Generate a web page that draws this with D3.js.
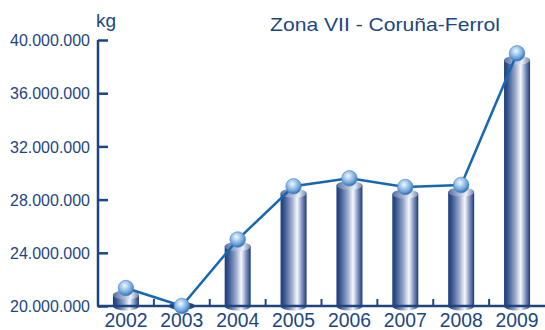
<!DOCTYPE html>
<html>
<head>
<meta charset="utf-8">
<script src="https://cdn.jsdelivr.net/npm/d3@7"></script>
<style>
  html, body { margin: 0; padding: 0; background: #fff; }
  svg { display: block; font-family: "Liberation Sans", Arial, sans-serif; }
</style>
</head>
<body>
<svg id="chart" width="545" height="330"></svg>
<script>
// Annual landings, Zona VII (Coruña-Ferrol), in kg
const years = ["2002", "2003", "2004", "2005", "2006", "2007", "2008", "2009"];
const kilos = [21350000, 20000000, 25000000, 29000000, 29600000, 28950000, 29100000, 39000000];
const yTicks = [20000000, 24000000, 28000000, 32000000, 36000000, 40000000];
const title = "Zona VII - Coruña-Ferrol";
const unit = "kg";

const navy = "#1d4680";
const lineBlue = "#1668b3";

const svg = d3.select("#chart");
const plotL = 98, plotR = 545, plotT = 40, plotB = 306;

const x = d3.scaleBand().domain(years).range([plotL, plotR]).paddingInner(0).paddingOuter(0);
const y = d3.scaleLinear().domain([20000000, 40000000]).range([plotB, plotT]);

const fmt = v => d3.format(",")(v).replace(/,/g, ".");

// gradients
const defs = svg.append("defs");
const cyl = defs.append("linearGradient").attr("id", "cyl").attr("x1", "0").attr("x2", "1").attr("y1", "0").attr("y2", "0");
[["0%", "#1a3a78"], ["15%", "#3a5890"], ["42%", "#96a6c8"], ["64%", "#f6f8fc"], ["82%", "#8395bf"], ["100%", "#1a3a78"]]
  .forEach(([o, c]) => cyl.append("stop").attr("offset", o).attr("stop-color", c));
const capG = defs.append("linearGradient").attr("id", "cap").attr("x1", "0").attr("x2", "1").attr("y1", "0").attr("y2", "0");
[["0%", "#5a6fa0"], ["45%", "#b0bcd7"], ["68%", "#eef1f8"], ["100%", "#7084b0"]]
  .forEach(([o, c]) => capG.append("stop").attr("offset", o).attr("stop-color", c));
const ball = defs.append("radialGradient").attr("id", "ball").attr("cx", "0.42").attr("cy", "0.35").attr("r", "0.65");
[["0%", "#f4f9ff"], ["30%", "#b6d5f2"], ["72%", "#6aa2d8"], ["100%", "#2f6cae"]]
  .forEach(([o, c]) => ball.append("stop").attr("offset", o).attr("stop-color", c));

// cylinders
const barW = 26, ry = 4.5, sink = 7;
const bars = svg.append("g");
years.forEach((yr, i) => {
  const cx = x(yr) + x.bandwidth() / 2;
  const topY = Math.min(y(kilos[i]) + sink, plotB);
  if (plotB - topY > 0) {
    bars.append("path")
      .attr("d", `M${cx - barW / 2},${topY} L${cx - barW / 2},${plotB} A${barW / 2},${ry} 0 0 0 ${cx + barW / 2},${plotB} L${cx + barW / 2},${topY} Z`)
      .attr("fill", "url(#cyl)");
    bars.append("ellipse").attr("cx", cx).attr("cy", topY).attr("rx", barW / 2).attr("ry", ry)
      .attr("fill", "url(#cap)");
  } else {
    bars.append("ellipse").attr("cx", cx).attr("cy", plotB).attr("rx", barW / 2).attr("ry", ry * 0.9)
      .attr("fill", "#2a4a84");
  }
});

// axes
const yAxis = svg.append("g").attr("transform", `translate(${plotL},0)`)
  .call(d3.axisRight(y).tickValues(yTicks).tickSize(10).tickFormat(""));
yAxis.select(".domain").attr("stroke", navy).attr("stroke-width", 2.5).attr("d", `M0,${plotT}V${plotB}`);
yAxis.selectAll(".tick line").attr("stroke", navy).attr("stroke-width", 2.5);

svg.append("g").selectAll("text").data(yTicks).join("text")
  .attr("x", 90).attr("y", d => y(d)).attr("dy", "0.36em")
  .attr("text-anchor", "end").attr("fill", navy).attr("font-size", 17)
  .attr("textLength", 80).attr("lengthAdjust", "spacingAndGlyphs")
  .text(fmt);

const xAxis = svg.append("g").attr("transform", `translate(0,${plotB})`)
  .call(d3.axisBottom(x).tickSize(0).tickFormat(""));
xAxis.select(".domain").attr("stroke", navy).attr("stroke-width", 2.5).attr("d", `M${plotL - 1},0H${plotR}`);

// small separators between years, pointing up
svg.append("g").selectAll("line").data(years.slice(1)).join("line")
  .attr("x1", d => x(d)).attr("x2", d => x(d))
  .attr("y1", plotB).attr("y2", plotB - 7)
  .attr("stroke", navy).attr("stroke-width", 2);

svg.append("g").selectAll("text").data(years).join("text")
  .attr("x", d => x(d) + x.bandwidth() / 2).attr("y", 327)
  .attr("text-anchor", "middle").attr("fill", navy).attr("font-size", 19.5)
  .attr("textLength", 43).attr("lengthAdjust", "spacingAndGlyphs")
  .text(d => d);

// trend line and markers
const pts = years.map((yr, i) => [x(yr) + x.bandwidth() / 2, y(kilos[i])]);
svg.append("path").attr("d", d3.line()(pts))
  .attr("fill", "none").attr("stroke", lineBlue).attr("stroke-width", 2.5);
svg.append("g").selectAll("circle").data(pts).join("circle")
  .attr("cx", d => d[0]).attr("cy", d => d[1]).attr("r", 7.8)
  .attr("fill", "url(#ball)").attr("stroke", "#4a86c4").attr("stroke-width", 0.6);

// labels
svg.append("text").attr("x", 96).attr("y", 27).attr("fill", navy).attr("font-size", 19).text(unit);
svg.append("text").attr("x", 385).attr("y", 31).attr("text-anchor", "middle")
  .attr("fill", navy).attr("font-size", 19)
  .attr("textLength", 230).attr("lengthAdjust", "spacingAndGlyphs")
  .text(title);
</script>
</body>
</html>
